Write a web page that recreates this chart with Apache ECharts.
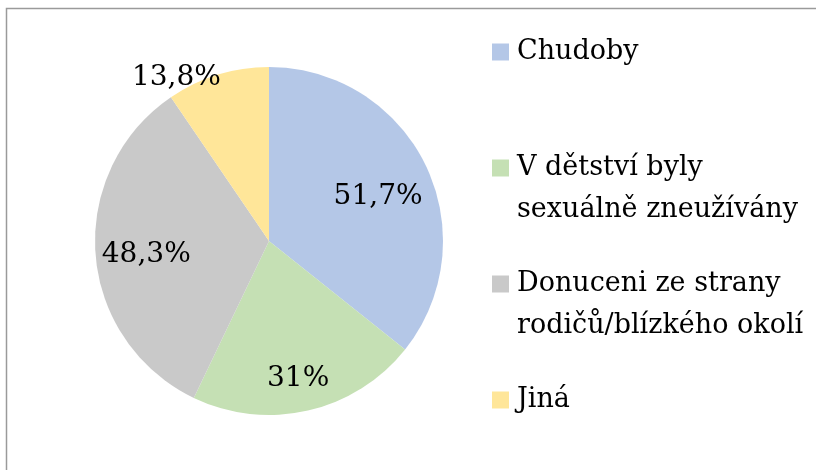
<!DOCTYPE html>
<html>
<head>
<meta charset="utf-8">
<script src="https://cdn.jsdelivr.net/npm/echarts@6/dist/echarts.min.js"></script>
<style>
  html, body { margin: 0; padding: 0; background: #fff; }
  #chart { width: 816px; height: 470px; }
</style>
</head>
<body>
<div id="chart"></div>
<script>
// Categories and their values (shown as percent labels)
const categories = [
  'Chudoby',
  'V dětství byly\nsexuálně zneužívány',
  'Donuceni ze strany\nrodičů/blízkého okolí',
  'Jiná'
];
const values = [51.7, 31, 48.3, 13.8];
const colors = ['#B4C7E7', '#C5E0B4', '#C9C9C9', '#FFE699'];

// Label nudges away from the default "inside" spot (half radius)
const labelShift = [[28, -5], [9, 50], [-33, 7], [-66, -77]];

const FONT = 'DejaVu Serif';
const LINE = 42;

const chart = echarts.init(document.getElementById('chart'), null, { renderer: 'canvas' });

chart.setOption({
  animation: false,
  backgroundColor: '#fff',
  color: colors,
  graphic: [{
    type: 'rect',
    shape: { x: 6.5, y: 8.5, width: 900, height: 600 },
    style: { fill: 'none', stroke: '#9a9a9a', lineWidth: 1.5 },
    silent: true
  }],
  legend: {
    orient: 'vertical',
    left: 492,
    top: -11,
    padding: 0,
    itemGap: -10,
    itemWidth: 17,
    itemHeight: 17,
    icon: 'rect',
    selectedMode: false,
    data: categories,
    // every entry is three lines tall so the icon sits level with the first text line
    formatter: function (name) {
      return name.indexOf('\n') >= 0 ? '\n' + name : '\n' + name + '\n';
    },
    textStyle: {
      fontFamily: FONT,
      fontSize: 27,
      lineHeight: LINE,
      color: '#000',
      padding: [0, 0, 0, 3]
    }
  },
  series: [{
    type: 'pie',
    center: [269, 241],
    radius: 174,
    startAngle: 90,
    clockwise: true,
    silent: true,
    itemStyle: { borderWidth: 0 },
    label: {
      show: true,
      position: 'inside',
      fontFamily: FONT,
      fontSize: 28,
      color: '#000',
      formatter: function (p) {
        return String(p.value).replace('.', ',') + '%';
      }
    },
    labelLine: { show: false },
    labelLayout: function (p) {
      const s = labelShift[p.dataIndex];
      return { dx: s[0], dy: s[1] };
    },
    data: categories.map(function (name, i) {
      return { name: name, value: values[i] };
    })
  }]
});
</script>
</body>
</html>
